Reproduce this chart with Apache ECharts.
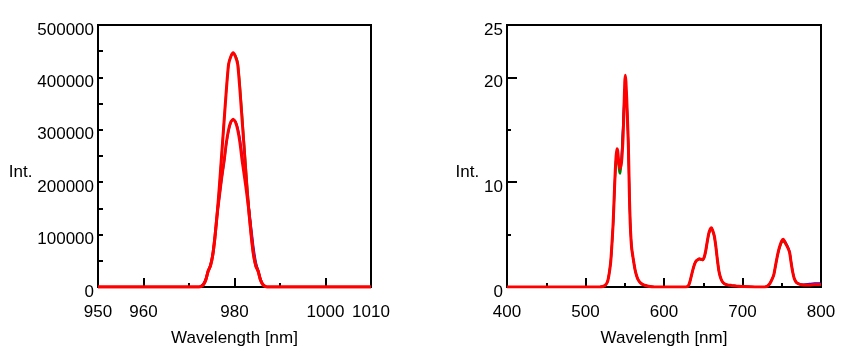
<!DOCTYPE html>
<html>
<head>
<meta charset="utf-8">
<script src="https://cdn.jsdelivr.net/npm/echarts@6/dist/echarts.min.js"></script>
<style>
  html, body { margin: 0; padding: 0; background: #fff; }
  #chart { width: 843px; height: 354px; }
</style>
</head>
<body>
<div id="chart"></div>
<script>
// left panel: 980 nm emission, two spectra
const wlLeft = [950, 972.2, 972.7, 973.2, 973.7, 974.2, 974.7, 975.2, 975.7, 976.2, 976.7,
  977.2, 977.7, 978.2, 978.7, 979.2, 979.7, 980.2, 980.7, 981.2, 981.7, 982.2, 982.7,
  983.2, 983.7, 984.2, 984.7, 985.2, 985.7, 986.2, 986.7, 987.2, 1010]
const tallRed = [0, 0, 1500, 5000, 14000, 30000, 40000, 60000, 95000, 140000, 195000,
  255000, 315000, 375000, 425000, 440000, 447000, 440000, 425000, 375000, 315000, 255000, 195000,
  140000, 95000, 60000, 40000, 30000, 14000, 5000, 1500, 0, 0]
const tallGreen = [0, 0, 1500, 5000, 14000, 30000, 40000, 60000, 95000, 140000, 195000,
  255000, 315000, 375000, 425000, 440000, 446000, 442000, 430000, 385000, 327000, 266000, 205000,
  150000, 103000, 66000, 44000, 31000, 15000, 5000, 1500, 0, 0]
const shortRed = [0, 0, 1500, 5000, 14000, 30000, 40000, 60000, 95000, 140000, 175000,
  210000, 240000, 275000, 300000, 315000, 320000, 315000, 300000, 275000, 240000, 210000, 178000,
  142000, 100000, 62000, 40000, 30000, 14000, 5000, 1500, 0, 0]
const shortBlue = [0, 0, 2500, 7000, 16000, 31000, 42000, 62000, 96000, 138000, 172000,
  207000, 237000, 272000, 298000, 314000, 319000, 316000, 304000, 282000, 250000, 220000, 186000,
  150000, 112000, 75000, 48000, 32000, 16000, 6000, 2000, 0, 0]

// right panel: visible emission
const wlRight = [400, 518, 522, 525, 528, 530, 532, 533, 534, 535, 536, 537, 538, 539, 540,
  541, 542, 543, 544, 545, 546, 547, 548, 549, 550, 550.7, 551.5, 552.5, 553.5, 554.5, 555.2,
  556, 557, 558, 559, 561, 563, 565, 567, 570, 574, 580, 588,
  628, 631, 633, 635, 637, 639, 641, 643, 645, 647, 649, 651, 653, 655, 657, 659, 660.5,
  662, 664, 666, 668, 670, 672, 674, 677, 681, 686, 692, 700,
  728, 732, 735, 738, 740, 742, 744, 746, 748, 750, 752, 754, 756, 758, 760, 762, 764, 766,
  769, 773, 778, 785, 792, 800]
const visRed = [0, 0, 0.05, 0.15, 0.5, 1.2, 2.3, 3.3, 4.5, 5.8, 7.5, 9.5, 11.2, 12.5, 13.2,
  13.0, 12.2, 11.6, 11.3, 11.5, 12.0, 13.0, 14.5, 17.0, 19.5, 20.2, 19.6, 18.0, 16.0, 13.8, 11.5,
  8.5, 6.0, 4.5, 3.6, 2.6, 1.7, 1.1, 0.7, 0.4, 0.2, 0.08, 0,
  0, 0.1, 0.5, 1.1, 1.7, 2.2, 2.5, 2.6, 2.7, 2.65, 2.6, 2.8, 3.4, 4.3, 5.1, 5.55, 5.65,
  5.4, 4.9, 3.9, 2.6, 1.5, 0.9, 0.55, 0.3, 0.2, 0.15, 0.1, 0.05,
  0, 0.1, 0.35, 0.8, 1.2, 2.0, 2.8, 3.5, 4.0, 4.4, 4.55, 4.3, 4.0, 3.7, 3.3, 2.3, 1.4, 0.8,
  0.4, 0.25, 0.2, 0.2, 0.25, 0.25]
const visGreen = [0, 0, 0.05, 0.15, 0.5, 1.3, 2.4, 3.3, 4.4, 5.6, 7.3, 9.3, 11.0, 12.2, 12.6,
  12.2, 11.6, 11.0, 10.8, 11.2, 12.4, 14.0, 15.5, 17.2, 18.3, 18.5, 18.4, 17.6, 15.8, 13.6, 11.4,
  8.6, 6.1, 4.6, 3.6, 2.6, 1.7, 1.1, 0.7, 0.4, 0.2, 0.08, 0,
  0, 0.1, 0.5, 1.1, 1.7, 2.2, 2.5, 2.6, 2.65, 2.6, 2.55, 2.75, 3.3, 4.2, 5.0, 5.4, 5.5,
  5.3, 4.8, 3.9, 2.6, 1.5, 0.9, 0.55, 0.3, 0.2, 0.15, 0.1, 0.05,
  0, 0.1, 0.35, 0.8, 1.2, 2.0, 2.8, 3.4, 3.9, 4.25, 4.35, 4.2, 4.0, 3.7, 3.3, 2.3, 1.4, 0.8,
  0.4, 0.25, 0.2, 0.2, 0.2, 0.2]
const visBlue = [0, 0, 0.05, 0.15, 0.5, 1.2, 2.3, 3.2, 4.4, 5.7, 7.4, 9.4, 11.1, 12.3, 12.9,
  12.7, 12.0, 11.4, 11.1, 11.5, 12.6, 14.2, 15.8, 17.5, 18.8, 19.0, 18.9, 17.8, 15.9, 13.7, 11.5,
  8.6, 6.1, 4.6, 3.6, 2.6, 1.7, 1.1, 0.7, 0.4, 0.2, 0.08, 0,
  0, 0.1, 0.5, 1.1, 1.7, 2.2, 2.5, 2.6, 2.7, 2.65, 2.6, 2.8, 3.4, 4.3, 5.1, 5.5, 5.6,
  5.4, 4.9, 3.9, 2.6, 1.5, 0.9, 0.55, 0.3, 0.2, 0.15, 0.1, 0.05,
  0, 0.1, 0.35, 0.8, 1.2, 2.0, 2.8, 3.5, 4.0, 4.4, 4.5, 4.35, 4.1, 3.8, 3.4, 2.4, 1.5, 0.8,
  0.4, 0.3, 0.25, 0.3, 0.35, 0.35]

const leftXLabels = [950, 960, 980, 1000, 1010]
const leftXMajor = [960, 980, 1000]
const leftXMinor = [970, 990]
const rightYLabels = [0, 10, 20, 25]
const rightYMajor = [10, 20]
const rightYMinor = [5, 15]

const FONT = '"Liberation Sans", Arial, sans-serif'
const black = { color: '#000', width: 2 }

function pairs(xs, ys) {
  return xs.map((x, i) => [x, ys[i]])
}

function line(name, color, width, xs, ys, xi, yi) {
  return {
    name, type: 'line', xAxisIndex: xi, yAxisIndex: yi,
    data: pairs(xs, ys), symbol: 'none', smooth: 0.2,
    lineStyle: { color, width }, itemStyle: { color },
  }
}

const labelStyle = { color: '#000', fontSize: 17, fontFamily: FONT }
// y labels sit a little below their tick in the original
const yLabelStyle = { ...labelStyle, verticalAlign: 'top', lineHeight: 10, formatter: v => String(v) }
const nameStyle = { ...labelStyle, verticalAlign: 'top', lineHeight: 32 }

const chart = echarts.init(document.getElementById('chart'))
chart.setOption({
  animation: false,
  grid: [
    { left: 98, right: 472, top: 25, bottom: 67, show: true, borderColor: '#000', borderWidth: 2 },
    { left: 507, right: 22, top: 25, bottom: 67, show: true, borderColor: '#000', borderWidth: 2 },
  ],
  xAxis: [
    {
      gridIndex: 0, type: 'value', min: 950, max: 1010, interval: 10, position: 'bottom',
      axisLine: { lineStyle: black },
      axisTick: { inside: true, length: 9, lineStyle: black, customValues: leftXMajor },
      axisLabel: { ...labelStyle, margin: 17, customValues: leftXLabels, formatter: v => String(v) },
      splitLine: { show: false },
      name: 'Wavelength [nm]', nameLocation: 'middle', nameGap: 43,
      nameTextStyle: labelStyle,
    },
    {
      gridIndex: 0, type: 'value', min: 950, max: 1010, interval: 10, position: 'bottom',
      axisLine: { show: false },
      axisTick: { inside: true, length: 4, lineStyle: black, customValues: leftXMinor },
      axisLabel: { show: false },
      splitLine: { show: false },
    },
    {
      gridIndex: 1, type: 'value', min: 400, max: 800, interval: 100,
      axisLine: { lineStyle: black },
      axisTick: { inside: true, length: 9, lineStyle: black },
      minorTick: { show: true, splitNumber: 2, length: 4, lineStyle: black },
      axisLabel: { ...labelStyle, margin: 17 },
      splitLine: { show: false },
      name: 'Wavelength [nm]', nameLocation: 'middle', nameGap: 43,
      nameTextStyle: labelStyle,
    },
  ],
  yAxis: [
    {
      gridIndex: 0, type: 'value', min: 0, max: 500000, interval: 100000,
      axisLine: { lineStyle: black },
      axisTick: { inside: true, length: 5, lineStyle: black },
      minorTick: { show: true, splitNumber: 2, length: 5, lineStyle: black },
      axisLabel: { ...yLabelStyle, margin: 4 },
      splitLine: { show: false },
      name: 'Int.', nameLocation: 'middle', nameRotate: 0, nameGap: 64,
      nameTextStyle: nameStyle,
    },
    {
      gridIndex: 1, type: 'value', min: 0, max: 25, interval: 5, position: 'left',
      axisLine: { lineStyle: black },
      axisTick: { inside: true, length: 10, lineStyle: black, customValues: rightYMajor },
      axisLabel: { ...yLabelStyle, margin: 4, customValues: rightYLabels },
      splitLine: { show: false },
      name: 'Int.', nameLocation: 'middle', nameRotate: 0, nameGap: 27,
      nameTextStyle: nameStyle,
    },
    {
      gridIndex: 1, type: 'value', min: 0, max: 25, interval: 5, position: 'left',
      axisLine: { show: false },
      axisTick: { inside: true, length: 4, lineStyle: black, customValues: rightYMinor },
      axisLabel: { show: false },
      splitLine: { show: false },
    },
  ],
  series: [
    line('blue 2', '#0000ff', 2, wlLeft, shortBlue, 0, 0),
    line('green 1', '#008000', 2, wlLeft, tallGreen, 0, 0),
    line('red 1', '#ff0000', 3, wlLeft, tallRed, 0, 0),
    line('red 2', '#ff0000', 3, wlLeft, shortRed, 0, 0),
    line('blue', '#0000ff', 2, wlRight, visBlue, 2, 1),
    line('green', '#008000', 2, wlRight, visGreen, 2, 1),
    line('red', '#ff0000', 3, wlRight, visRed, 2, 1),
  ],
})
</script>
</body>
</html>
